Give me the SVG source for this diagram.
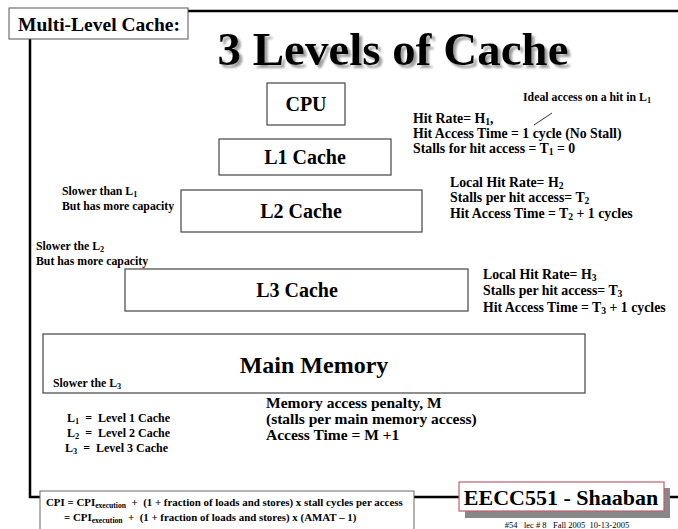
<svg xmlns="http://www.w3.org/2000/svg" width="678" height="529" viewBox="0 0 678 529">
<style>
text{font-family:"Liberation Serif","Times New Roman",serif;font-weight:bold;fill:#000}
.box{fill:#fff;stroke:#444;stroke-width:1.2}
.frame{fill:none;stroke:#000;stroke-width:2.5}
.lbl{font-size:20px;text-anchor:middle}
.note{font-size:13.8px}
.sm{font-size:11.8px}
.leg{font-size:12px}
.cpi{font-size:10.9px}
.mem{font-size:15.5px}
.sub{font-size:70%}
</style>
<defs>
<filter id="shadow" x="-5%" y="-20%" width="110%" height="140%">
<feDropShadow dx="3" dy="3" stdDeviation="1" flood-color="#888" flood-opacity="0.8"/>
</filter>
</defs>
<rect width="678" height="529" fill="#fff"/>
<g id="frame">
<path class="frame" d="M188 11 H678"/>
<path class="frame" d="M30 39 V497 H40"/>
<path class="frame" d="M414 497 H460"/>
<path class="frame" d="M662 497 H678"/>
</g>
<g id="header">
<rect x="9" y="8" width="179" height="31" fill="#fff" stroke="#555" stroke-width="1"/>
<text x="99" y="31" font-size="19.5" text-anchor="middle">Multi-Level Cache:</text>
</g>
<g id="title">
<text x="393" y="65" font-size="47" text-anchor="middle" filter="url(#shadow)">3 Levels of Cache</text>
</g>
<g id="cpu">
<rect class="box" x="267" y="83" width="78" height="42"/>
<text class="lbl" x="306" y="111">CPU</text>
</g>
<g id="l1">
<rect class="box" x="219" y="139" width="172" height="36"/>
<text class="lbl" x="305" y="164">L1 Cache</text>
</g>
<g id="l2">
<rect class="box" x="181" y="190" width="241" height="42"/>
<text class="lbl" x="301" y="218">L2 Cache</text>
</g>
<g id="l3">
<rect class="box" x="125" y="269" width="343" height="42"/>
<text class="lbl" x="297" y="297">L3 Cache</text>
</g>
<g id="mainmem">
<rect class="box" x="43" y="334" width="542" height="59"/>
<text class="lbl" x="314" y="373" style="font-size:24px">Main Memory</text>
<text class="sm" x="53" y="387">Slower the L<tspan class="sub" dy="2">3</tspan></text>
</g>
<g id="connectors">
<path d="M534 125 L552 113" stroke="#333" stroke-width="1" fill="none"/>
</g>
<g id="notes-left">
<text class="sm" x="62" y="195">Slower than L<tspan class="sub" dy="2">1</tspan></text>
<text class="sm" x="62" y="210">But has more capacity</text>
<text class="sm" x="36" y="250">Slower the L<tspan class="sub" dy="2">2</tspan></text>
<text class="sm" x="36" y="265">But has more capacity</text>
</g>
<g id="notes-l1">
<text class="sm" x="523" y="101">Ideal access on a hit in L<tspan class="sub" dy="2">1</tspan></text>
<text class="note" x="413" y="123">Hit Rate= H<tspan class="sub" dy="2">1</tspan><tspan dy="-2">,</tspan></text>
<text class="note" x="413" y="138">Hit Access Time = 1 cycle (No Stall)</text>
<text class="note" x="413" y="153">Stalls for hit access = T<tspan class="sub" dy="2">1</tspan><tspan dy="-2"> = 0</tspan></text>
</g>
<g id="notes-l2">
<text class="note" x="450" y="187">Local Hit Rate= H<tspan class="sub" dy="2">2</tspan></text>
<text class="note" x="450" y="202">Stalls per hit access= T<tspan class="sub" dy="2">2</tspan></text>
<text class="note" x="450" y="218">Hit Access Time = T<tspan class="sub" dy="2">2</tspan><tspan dy="-2"> + 1 cycles</tspan></text>
</g>
<g id="notes-l3">
<text class="note" x="483" y="279">Local Hit Rate= H<tspan class="sub" dy="2">3</tspan></text>
<text class="note" x="483" y="295">Stalls per hit access= T<tspan class="sub" dy="2">3</tspan></text>
<text class="note" x="483" y="312">Hit Access Time = T<tspan class="sub" dy="2">3</tspan><tspan dy="-2"> + 1 cycles</tspan></text>
</g>
<g id="memory-notes">
<text class="mem" x="266" y="408">Memory access penalty, M</text>
<text class="mem" x="266" y="424">(stalls per main memory access)</text>
<text class="mem" x="266" y="440">Access Time = M +1</text>
</g>
<g id="legend">
<text class="leg" x="67" y="422">L<tspan class="sub" dy="2">1</tspan><tspan dy="-2">&#160; = &#160;Level 1 Cache</tspan></text>
<text class="leg" x="67" y="437">L<tspan class="sub" dy="2">2</tspan><tspan dy="-2">&#160; = &#160;Level 2 Cache</tspan></text>
<text class="leg" x="65" y="452">L<tspan class="sub" dy="2">3</tspan><tspan dy="-2">&#160; = &#160;Level 3 Cache</tspan></text>
</g>
<g id="cpi">
<rect x="40" y="491" width="374" height="40" fill="#fff" stroke="#666" stroke-width="1"/>
<text class="cpi" x="46" y="506">CPI = CPI<tspan class="sub" dy="2">execution</tspan><tspan dy="-2">&#160; + &#160;(1 + fraction of loads and stores) x stall cycles per access</tspan></text>
<text class="cpi" x="64" y="521">= CPI<tspan class="sub" dy="2">execution</tspan><tspan dy="-2">&#160; + &#160;(1 + fraction of loads and stores) x (AMAT – 1)</tspan></text>
</g>
<g id="badge">
<rect x="465" y="488" width="205" height="30" fill="#888"/>
<rect x="459" y="482" width="205" height="29" fill="#fff" stroke="#c06070" stroke-width="1.2"/>
<text x="561" y="505" font-size="22" text-anchor="middle">EECC551 - Shaaban</text>
<text x="567" y="527.5" font-size="8.5" text-anchor="middle" style="font-weight:normal">#54 &#160; lec # 8 &#160; Fall 2005 &#160;10-13-2005</text>
</g>
</svg>
